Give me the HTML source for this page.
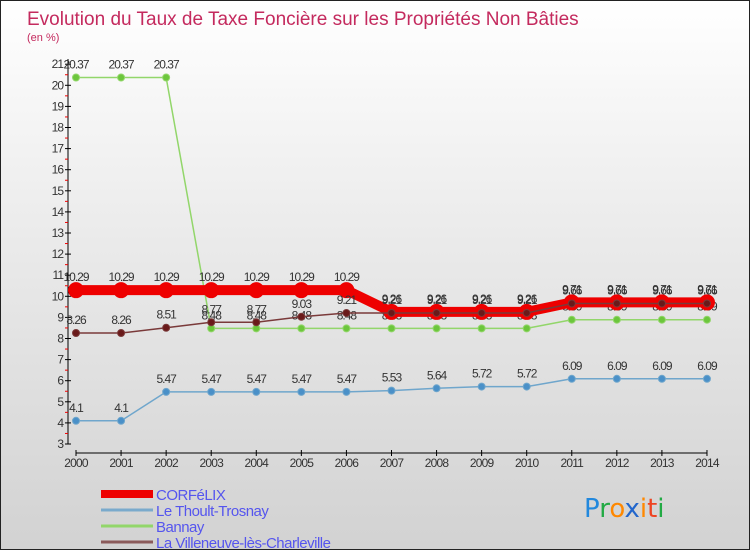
<!DOCTYPE html>
<html><head><meta charset="utf-8"><style>
body{margin:0}
#c{width:750px;height:550px;position:relative;overflow:hidden;box-sizing:border-box;border:1px solid #222;background:linear-gradient(#ffffff 0%,#ececec 40%,#d2d2d2 100%);font-family:"Liberation Sans",sans-serif}
</style></head><body>
<div id="c">
<svg width="750" height="550" id="s"></svg>
</div>
<script>
const years=[2000,2001,2002,2003,2004,2005,2006,2007,2008,2009,2010,2011,2012,2013,2014];
const corfelix=[10.29,10.29,10.29,10.29,10.29,10.29,10.29,9.26,9.26,9.26,9.26,9.71,9.71,9.71,9.71];
const thoult=[4.1,4.1,5.47,5.47,5.47,5.47,5.47,5.53,5.64,5.72,5.72,6.09,6.09,6.09,6.09];
const bannay=[20.37,20.37,20.37,8.48,8.48,8.48,8.48,8.48,8.48,8.48,8.48,8.89,8.89,8.89,8.89];
const villeneuve=[8.26,8.26,8.51,8.77,8.77,9.03,9.21,9.21,9.21,9.21,9.21,9.66,9.66,9.66,9.66];
const yTicks=[3,4,5,6,7,8,9,10,11,12,13,14,15,16,17,18,19,20,21];
const NS="http://www.w3.org/2000/svg";
const s=document.getElementById('s');
const X=i=>75+i*45.07;
const Y=v=>443-(v-3)*21.1;
function el(t,a,txt){const e=document.createElementNS(NS,t);for(const k in a)e.setAttribute(k,a[k]);if(txt!==undefined)e.textContent=txt;s.appendChild(e);return e;}
let t=el('text',{x:26,y:24,'font-size':19,fill:'#c42a5e'},'Evolution du Taux de Taxe Foncière sur les Propriétés Non Bâties');

t=el('text',{x:26,y:40,'font-size':11,fill:'#c42a5e'},'(en %)');

let a=el('line',{x1:67,y1:58,x2:67,y2:443,stroke:'#000'});
a=el('line',{x1:75,y1:452,x2:706,y2:452,stroke:'#000'});
yTicks.forEach(v=>{el('line',{x1:64,x2:70,y1:Y(v),y2:Y(v),stroke:'#000'});
 if(v<21)el('line',{x1:64,x2:67,y1:Y(v+0.5),y2:Y(v+0.5),stroke:'#e00'});
 const l=el('text',{x:62,y:Y(v)+4,'font-size':12,fill:'#333','text-anchor':'end','letter-spacing':'-1'},v);
 });
years.forEach((y,i)=>{el('line',{x1:X(i),x2:X(i),y1:449,y2:455,stroke:'#000'});
 const l=el('text',{x:X(i),y:466,'font-size':12,fill:'#333','text-anchor':'middle','letter-spacing':'-0.8'},y);
 });
function series(d,col,w,r,name,dot){
 const p=el('polyline',{points:d.map((v,i)=>X(i)+','+Y(v)).join(' '),fill:'none',stroke:col,'stroke-width':w,'stroke-linejoin':'round'});
 
 d.forEach((v,i)=>{const c=el('circle',{cx:X(i),cy:Y(v),r:r,fill:dot,stroke:col,'stroke-width':1});
  
  const l=el('text',{x:X(i),y:Y(v)-9,'font-size':12,fill:'#333','text-anchor':'middle','letter-spacing':'-1'},v);
  });
}
series(thoult,'#6fa6cc',1.5,3.5,'thoult','#4a90c8');
series(bannay,'#92d66a',1.5,3.5,'bannay','#6cc63c');
series(corfelix,'#ee0000',10,7.5,'corfelix','#ee0000');
series(villeneuve,'#7a3a3a',1.5,3.5,'villeneuve','#6a1a1a');
const leg=[['CORFéLIX','#ee0000',8],['Le Thoult-Trosnay','#7aaacc',3],['Bannay','#92d66a',3],['La Villeneuve-lès-Charleville','#8a5a5a',3]];
leg.forEach((L,i)=>{const y=493+i*16;
 const r=el('line',{x1:100,x2:152,y1:y,y2:y,stroke:L[1],'stroke-width':L[2]});
 const l=el('text',{x:155,y:y+6,'font-size':15,fill:'#5555ee','letter-spacing':'-0.5'},L[0]);});
const lg=el('text',{x:583,y:516,'font-size':26,'font-family':'DejaVu Sans,sans-serif'},'');

[['P','#2288dd'],['r','#22aa44'],['o','#ff8800'],['x','#2266cc'],['i','#ff8800'],['t','#ee4422'],['i','#22aa44']].forEach(c=>{const sp=document.createElementNS(NS,'tspan');sp.setAttribute('fill',c[1]);sp.textContent=c[0];lg.appendChild(sp);});
</script>
</body></html>
